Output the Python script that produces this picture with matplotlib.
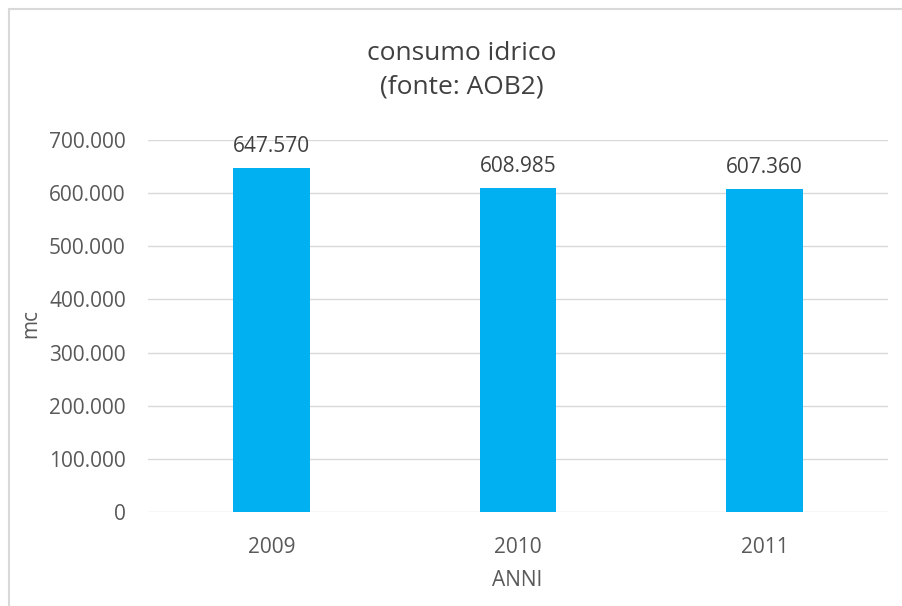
import matplotlib.pyplot as plt
from matplotlib.ticker import FuncFormatter
from matplotlib.patches import Rectangle

anni = ['2009', '2010', '2011']
consumo = [647570, 608985, 607360]
tick_valori = [0, 100000, 200000, 300000, 400000, 500000, 600000, 700000]

colore_barre = '#00B0F0'
colore_testo = '#595959'
W, H = 903, 606


def formatta_migliaia(v, pos=None):
    return '{:,.0f}'.format(v).replace(',', '.')


plt.rcParams['font.family'] = ['Open Sans', 'DejaVu Sans']

fig = plt.figure(figsize=(W / 100, H / 100), dpi=100)
ax = fig.add_axes([148 / W, 1 - 512 / H, 740 / W, 372 / H])

x = range(len(anni))
ax.bar(x, consumo, width=0.31, color=colore_barre, zorder=3)

for xi, v in zip(x, consumo):
    ax.annotate(formatta_migliaia(v), (xi, v), xytext=(0, 8), textcoords='offset points',
                ha='center', va='bottom', fontsize=15, color='#404040')

ax.set_xlim(-0.5, len(anni) - 0.5)
ax.set_ylim(0, 700000)
ax.set_yticks(tick_valori)
ax.yaxis.set_major_formatter(FuncFormatter(formatta_migliaia))
ax.set_xticks(list(x))
ax.set_xticklabels(anni)
ax.grid(axis='y', color='#D9D9D9', linewidth=1, zorder=0)
for s in ax.spines.values():
    s.set_visible(False)
ax.tick_params(length=0, labelsize=15, labelcolor=colore_testo)
ax.tick_params(axis='y', pad=16)
ax.tick_params(axis='x', pad=18)

fig.text(31 / W, 1 - 323 / H, 'mc', rotation=90, ha='center', va='center',
         fontsize=15, color=colore_testo)
fig.text(517 / W, 1 - 580 / H, 'ANNI', ha='center', va='center',
         fontsize=15, color=colore_testo)

fig.text(462 / W, 1 - 59.5 / H, 'consumo idrico', ha='center', va='baseline',
         fontsize=19, color='#404040')
fig.text(462 / W, 1 - 93 / H, '(fonte: AOB2)', ha='center', va='baseline',
         fontsize=19, color='#404040')

# bordo del grafico
fig.patches.append(Rectangle((9 / W, -0.1), 1.1, 1 - 9 / H + 0.1, transform=fig.transFigure,
                             fill=False, edgecolor='#D9D9D9', linewidth=1.5))

fig.savefig('out.png', dpi=100)
